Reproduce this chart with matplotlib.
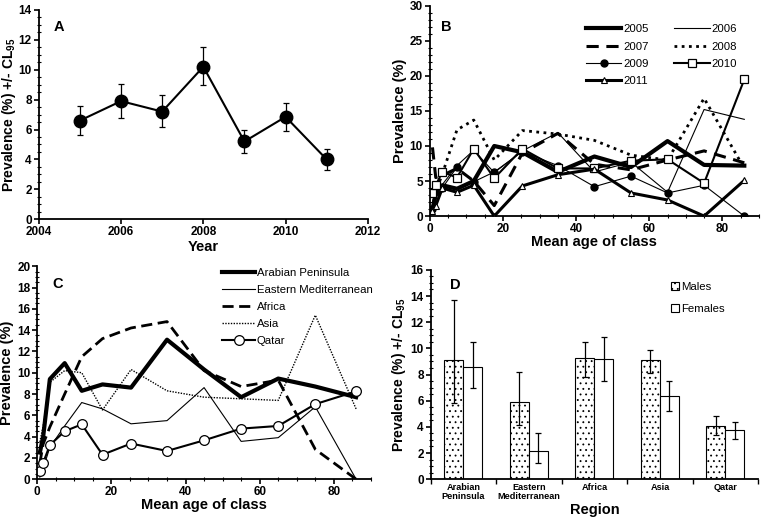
import matplotlib
matplotlib.use("Agg")
import matplotlib.pyplot as plt
from matplotlib.ticker import MultipleLocator
import numpy as np

plt.rcParams['font.family'] = ['Liberation Sans', 'DejaVu Sans']
plt.rcParams['mathtext.fontset'] = 'custom'
plt.rcParams['mathtext.bf'] = 'Liberation Sans:bold'
plt.rcParams['mathtext.rm'] = 'Liberation Sans:bold'
plt.rcParams['mathtext.default'] = 'bf'
plt.rcParams['hatch.linewidth'] = 0.6

# panel A
years = [2005, 2006, 2007, 2008, 2009, 2010, 2011]
prev_year = [6.6, 7.9, 7.2, 10.2, 5.2, 6.85, 4.0]
ci_low_year = [5.65, 6.75, 6.15, 8.95, 4.45, 5.9, 3.3]
ci_high_year = [7.6, 9.05, 8.3, 11.5, 5.95, 7.8, 4.7]

# mean age of class (panels B and C)
ages = [0.7, 1.6, 3.4, 7.4, 12, 17.6, 25.3, 35, 45, 55, 65, 75, 86]

# panel B, prevalence by year
p2005 = [1.0, 3.0, 4.4, 3.9, 5.0, 10.0, 9.1, 6.3, 8.5, 7.0, 10.7, 7.3, 7.2]
p2006 = [2.0, 4.0, 4.5, 7.2, 9.4, 6.2, 9.3, 11.9, 6.3, 7.7, 3.4, 15.2, 13.8]
p2007 = [9.8, 5.5, 5.8, 6.8, 5.0, 1.5, 9.0, 11.8, 7.4, 6.6, 8.0, 9.3, 7.6]
p2008 = [1.0, 3.5, 6.0, 12.3, 13.7, 8.0, 12.2, 11.7, 10.8, 8.7, 8.0, 16.8, 6.8]
p2009 = [1.0, 3.6, 4.0, 7.0, 4.9, 6.3, 9.2, 7.2, 4.2, 5.7, 3.3, 4.4, 0.0]
p2010 = [3.3, 4.4, 6.3, 5.5, 9.6, 5.4, 9.6, 6.8, 6.8, 7.9, 8.1, 4.7, 19.5]
p2011 = [0.7, 1.5, 4.0, 3.4, 4.4, 0.0, 4.3, 5.9, 6.7, 3.3, 2.3, 0.0, 5.1]

# panel C, prevalence by region
arabian = [2.5, 4.0, 9.4, 10.9, 8.3, 8.9, 8.6, 13.1, 10.3, 7.7, 9.45, 8.7, 7.7]
east_med = [0.2, 1.0, 3.0, 5.0, 7.2, 6.6, 5.2, 5.5, 8.6, 3.55, 3.9, 6.8, 0.0]
africa = [1.5, 3.3, 4.9, 8.0, 11.5, 13.2, 14.2, 14.8, 10.2, 8.7, 9.3, 2.8, 0.0]
asia = [3.5, 5.0, 9.1, 10.2, 10.0, 6.5, 10.3, 8.3, 7.7, 7.55, 7.4, 15.4, 6.6]
qatar = [0.8, 1.55, 3.2, 4.5, 5.15, 2.3, 3.35, 2.65, 3.65, 4.75, 5.0, 7.05, 8.25]

# panel D, by sex and region
regions = ["Arabian\nPeninsula", "Eastern\nMediterranean", "Africa", "Asia", "Qatar"]
males = [9.1, 5.9, 9.25, 9.1, 4.1]
males_low = [5.8, 4.15, 7.8, 8.15, 3.35]
males_high = [13.7, 8.2, 10.5, 9.9, 4.8]
females = [8.6, 2.15, 9.2, 6.35, 3.75]
females_low = [6.95, 1.25, 7.5, 5.2, 3.1]
females_high = [10.5, 3.5, 10.85, 7.5, 4.4]

fig = plt.figure(figsize=(7.76, 5.22), dpi=100)
axA = fig.add_axes([0.050, 0.580, 0.424, 0.401])
axB = fig.add_axes([0.554, 0.586, 0.424, 0.403])
axC = fig.add_axes([0.048, 0.082, 0.430, 0.408])
axD = fig.add_axes([0.555, 0.082, 0.422, 0.401])

TICK = 8.5
LAB = 10
LEG = 8.2


def style(ax):
    for s in ['top', 'right']:
        ax.spines[s].set_visible(False)
    for s in ['left', 'bottom']:
        ax.spines[s].set_linewidth(1.3)
    ax.tick_params(which='major', direction='out', length=3.5, width=1.2,
                   labelsize=TICK, pad=1.5)
    ax.tick_params(which='minor', direction='inout', length=2.5, width=0.8)
    for lab in ax.get_xticklabels() + ax.get_yticklabels():
        lab.set_fontweight('bold')


# ---- A
yerr = [np.array(prev_year) - np.array(ci_low_year),
        np.array(ci_high_year) - np.array(prev_year)]
axA.errorbar(years, prev_year, yerr=yerr, color='black', lw=1.5, marker='o',
             ms=9, capsize=2.5, elinewidth=0.9, capthick=0.9)
axA.set_xlim(2004, 2012)
axA.set_ylim(0, 14)
axA.xaxis.set_major_locator(MultipleLocator(2))
axA.yaxis.set_major_locator(MultipleLocator(2))
axA.yaxis.set_minor_locator(MultipleLocator(0.5))
style(axA)
axA.set_xlabel("Year", fontsize=LAB + 0.5, fontweight='bold', labelpad=1)
axA.set_ylabel("Prevalence (%) +/- CL$_{95}$", fontsize=LAB, fontweight='bold', labelpad=0.5)
axA.text(0.045, 0.9, "A", transform=axA.transAxes, fontsize=10.5, fontweight='bold')

# ---- B
h05, = axB.plot(ages, p2005, color='black', lw=3.0, label='2005')
h06, = axB.plot(ages, p2006, color='black', lw=0.8, label='2006')
h07, = axB.plot(ages, p2007, color='black', lw=2.2, dashes=(4, 2.5), label='2007')
h08, = axB.plot(ages, p2008, color='black', lw=2.0, linestyle=(0, (1, 1.6)), label='2008')
h09, = axB.plot(ages, p2009, color='black', lw=0.8, marker='o', ms=5, label='2009')
h10, = axB.plot(ages, p2010, color='black', lw=1.5, marker='s', ms=6, mfc='white', mew=0.9, label='2010')
h11, = axB.plot(ages, p2011, color='black', lw=2.2, marker='^', ms=5, mfc='white', mew=0.8, label='2011')
axB.set_xlim(0, 90)
axB.set_ylim(0, 30)
axB.xaxis.set_major_locator(MultipleLocator(20))
axB.xaxis.set_minor_locator(MultipleLocator(5))
axB.yaxis.set_major_locator(MultipleLocator(5))
axB.yaxis.set_minor_locator(MultipleLocator(1))
style(axB)
axB.set_xlabel("Mean age of class", fontsize=LAB + 0.5, fontweight='bold', labelpad=0)
axB.set_ylabel("Prevalence (%)", fontsize=LAB + 0.5, fontweight='bold', labelpad=2)
axB.text(0.035, 0.88, "B", transform=axB.transAxes, fontsize=10.5, fontweight='bold')
axB.legend([h05, h07, h09, h11, h06, h08, h10],
           ['2005', '2007', '2009', '2011', '2006', '2008', '2010'],
           ncol=2, loc='upper right', bbox_to_anchor=(0.955, 0.945), frameon=False,
           fontsize=LEG, handlelength=3.1, handletextpad=0.2, columnspacing=2.2,
           labelspacing=0.65, borderaxespad=0.2)

# ---- C
axC.plot(ages, arabian, color='black', lw=3.0, label='Arabian Peninsula')
axC.plot(ages, east_med, color='black', lw=0.8, label='Eastern Mediterranean')
axC.plot(ages, africa, color='black', lw=2.0, dashes=(4, 2), label='Africa')
axC.plot(ages, asia, color='black', lw=1.0, linestyle=(0, (1, 1)), label='Asia')
axC.plot(ages, qatar, color='black', lw=1.5, marker='o', ms=7, mfc='white', mew=0.9, label='Qatar')
axC.set_xlim(0, 90)
axC.set_ylim(0, 20)
axC.xaxis.set_major_locator(MultipleLocator(20))
axC.xaxis.set_minor_locator(MultipleLocator(5))
axC.yaxis.set_major_locator(MultipleLocator(2))
axC.yaxis.set_minor_locator(MultipleLocator(0.5))
style(axC)
axC.set_xlabel("Mean age of class", fontsize=LAB + 0.5, fontweight='bold', labelpad=0)
axC.set_ylabel("Prevalence (%)", fontsize=LAB + 0.5, fontweight='bold', labelpad=2)
axC.text(0.045, 0.9, "C", transform=axC.transAxes, fontsize=10.5, fontweight='bold')
axC.legend(loc='upper right', bbox_to_anchor=(1.035, 1.04), frameon=False,
           fontsize=LEG, handlelength=2.9, handletextpad=0.1, labelspacing=0.62)

# ---- D
x = np.arange(len(regions))
w = 0.29
axD.bar(x - w / 2, males, w, yerr=[np.array(males) - np.array(males_low),
                                    np.array(males_high) - np.array(males)],
        color='white', edgecolor='black', hatch='...', lw=0.8, label='Males',
        error_kw=dict(elinewidth=0.9, capsize=2.5, capthick=0.9))
axD.bar(x + w / 2, females, w, yerr=[np.array(females) - np.array(females_low),
                                      np.array(females_high) - np.array(females)],
        color='white', edgecolor='black', lw=0.8, label='Females',
        error_kw=dict(elinewidth=0.9, capsize=2.5, capthick=0.9))
axD.set_xlim(-0.5, 4.31)
axD.set_ylim(0, 16)
axD.set_xticks(x)
axD.set_xticklabels(regions)
axD.set_xticks(np.arange(-0.5, 4.6, 1), minor=True)
axD.yaxis.set_major_locator(MultipleLocator(2))
axD.yaxis.set_minor_locator(MultipleLocator(0.5))
style(axD)
axD.tick_params(axis='x', which='major', length=0, labelsize=6.6, pad=3)
axD.tick_params(axis='x', which='minor', direction='out', length=3.5, width=1.0)
for lab in axD.get_xticklabels():
    lab.set_linespacing(1.0)
axD.set_xlabel("Region", fontsize=LAB + 0.5, fontweight='bold', labelpad=1)
axD.set_ylabel("Prevalence (%) +/- CL$_{95}$", fontsize=LAB, fontweight='bold', labelpad=2)
axD.text(0.06, 0.91, "D", transform=axD.transAxes, fontsize=10.5, fontweight='bold')
axD.legend(loc='upper right', bbox_to_anchor=(0.93, 0.99), frameon=False, fontsize=LEG,
           handlelength=0.7, handleheight=0.7, handletextpad=0.2, labelspacing=1.0)

fig.savefig("out.png", dpi=100)
